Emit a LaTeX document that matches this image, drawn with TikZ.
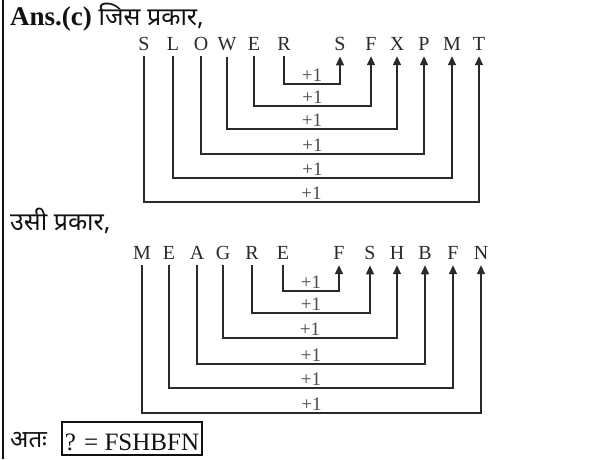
\documentclass[tikz,border=0pt]{standalone}
\usepackage{fontspec}
\setmainfont{Liberation Serif}
\newfontfamily\hindi[Script=Devanagari]{Noto Sans}
\usepackage{xcolor}
\definecolor{ANSink}{HTML}{111111}
\definecolor{ANSline}{HTML}{2A2A2A}
\definecolor{ANSgray}{HTML}{4A4A4A}
\usepackage{tikz}
\usetikzlibrary{arrows.meta, positioning}

\begin{document}
\begin{tikzpicture}[x=1pt, y=-1pt,
  letter/.style={anchor=base, inner sep=6pt, font=\fontsize{20}{23}\selectfont, color=ANSline},
  link/.style={line width=1.5pt, color=ANSline, -{Triangle[width=8pt, length=9pt]}},
  plus/.style={above, inner sep=2pt, font=\fontsize{19}{22}\selectfont, color=ANSgray}]
\useasboundingbox (0,0) rectangle (610,459);

% Left rule
\draw[line width=2pt, color=ANSink] (3,0) -- (3,459);

% Heading
\node[anchor=base west, inner sep=0pt, color=ANSink] (head1) at (10,25)
  {\fontsize{27}{30}\selectfont\bfseries Ans.(c)\mdseries\ \hindi\fontsize{25}{28}\selectfont जिस प्रकार,};

% First word and its answer
\node[letter] (s1) at (144,50) {S};
\node[letter] (s2) at (173,50) {L};
\node[letter] (s3) at (201,50) {O};
\node[letter] (s4) at (227,50) {W};
\node[letter] (s5) at (254,50) {E};
\node[letter] (s6) at (284,50) {R};
\node[letter] (t6) at (340,50) {S};
\node[letter] (t5) at (371,50) {F};
\node[letter] (t4) at (397,50) {X};
\node[letter] (t3) at (424,50) {P};
\node[letter] (t2) at (452,50) {M};
\node[letter] (t1) at (479,50) {T};

\draw[link] (s6.south) -- (s6.south |- 0,84) -| node[plus, pos=0.25] {+1} (t6.south);
\draw[link] (s5.south) -- (s5.south |- 0,106) -| node[plus, pos=0.25] {+1} (t5.south);
\draw[link] (s4.south) -- (s4.south |- 0,129) -| node[plus, pos=0.25] {+1} (t4.south);
\draw[link] (s3.south) -- (s3.south |- 0,154) -| node[plus, pos=0.25] {+1} (t3.south);
\draw[link] (s2.south) -- (s2.south |- 0,178) -| node[plus, pos=0.25] {+1} (t2.south);
\draw[link] (s1.south) -- (s1.south |- 0,202) -| node[plus, pos=0.25] {+1} (t1.south);

% Second heading
\node[anchor=base west, inner sep=0pt, color=ANSink] (head2) at (10,230)
  {\hindi\fontsize{25}{28}\selectfont उसी प्रकार,};

% Second word and its answer
\node[letter] (m1) at (142,259) {M};
\node[letter] (m2) at (169,259) {E};
\node[letter] (m3) at (197,259) {A};
\node[letter] (m4) at (223,259) {G};
\node[letter] (m5) at (252,259) {R};
\node[letter] (m6) at (283,259) {E};
\node[letter] (n6) at (339,259) {F};
\node[letter] (n5) at (370,259) {S};
\node[letter] (n4) at (397,259) {H};
\node[letter] (n3) at (425,259) {B};
\node[letter] (n2) at (453,259) {F};
\node[letter] (n1) at (481,259) {N};

\draw[link] (m6.south) -- (m6.south |- 0,291) -| node[plus, pos=0.25] {+1} (n6.south);
\draw[link] (m5.south) -- (m5.south |- 0,313) -| node[plus, pos=0.25] {+1} (n5.south);
\draw[link] (m4.south) -- (m4.south |- 0,338) -| node[plus, pos=0.25] {+1} (n4.south);
\draw[link] (m3.south) -- (m3.south |- 0,364) -| node[plus, pos=0.25] {+1} (n3.south);
\draw[link] (m2.south) -- (m2.south |- 0,388) -| node[plus, pos=0.25] {+1} (n2.south);
\draw[link] (m1.south) -- (m1.south |- 0,413) -| node[plus, pos=0.25] {+1} (n1.south);

% Result
\node[anchor=base west, inner sep=0pt, color=ANSink] (hence) at (10,447)
  {\hindi\fontsize{24}{27}\selectfont अतः};
\node[anchor=base west, draw=ANSink, line width=1.6pt, inner xsep=3pt, inner ysep=4pt,
  text height=24pt, text depth=1pt, color=ANSink, font=\fontsize{25}{28}\selectfont]
  (result) at (61,450) {? = FSHBFN};
\end{tikzpicture}
\end{document}
